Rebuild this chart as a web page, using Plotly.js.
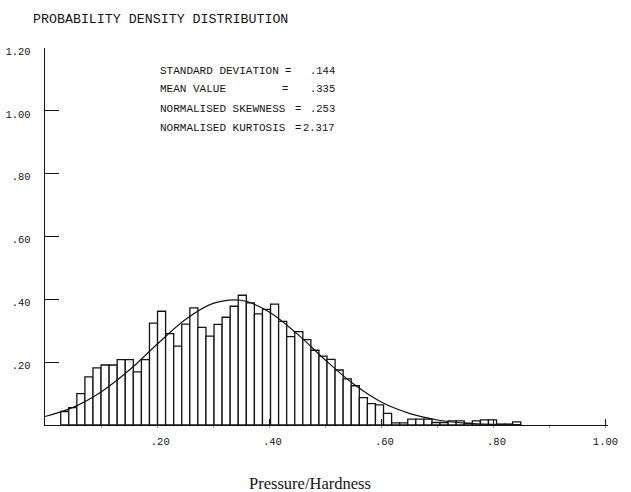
<!DOCTYPE html>
<html>
<head>
<meta charset="utf-8">
<script src="https://cdn.plot.ly/plotly-3.0.1.min.js"></script>
<style>
  html, body { margin: 0; padding: 0; background: #fff; }
  #chart { width: 631px; height: 492px; }
</style>
</head>
<body>
<div id="chart"></div>
<script>
// Histogram of pressure/hardness: bin layout and relative frequencies
const binStart = 0.028;
const binWidth = 0.0144;
const binHeights = [
  0.043, 0.055, 0.100, 0.153, 0.182, 0.191, 0.191, 0.208, 0.208, 0.169,
  0.208, 0.324, 0.362, 0.291, 0.251, 0.321, 0.373, 0.311, 0.283, 0.320,
  0.343, 0.378, 0.413, 0.389, 0.354, 0.368, 0.385, 0.330, 0.281, 0.297,
  0.272, 0.238, 0.219, 0.209, 0.175, 0.147, 0.125, 0.087, 0.068, 0.064,
  0.037, 0.007, 0.007, 0.019, 0.019, 0.019, 0.008, 0.008, 0.013, 0.013,
  0.005, 0.013, 0.016, 0.016, 0.003, 0.003, 0.010
];

// Fitted normal curve, sampled along the x axis
const curveX = [0, 0.05, 0.10, 0.15, 0.20, 0.25, 0.30, 0.35, 0.40, 0.45,
                0.50, 0.55, 0.60, 0.65, 0.70, 0.75, 0.80, 0.85];
const curveY = [0.027, 0.056, 0.105, 0.174, 0.257, 0.335, 0.387, 0.397, 0.360, 0.290,
                0.207, 0.131, 0.073, 0.037, 0.016, 0.006, 0.002, 0.001];

// Summary statistics
const statLabels = ['STANDARD DEVIATION', 'MEAN VALUE', 'NORMALISED SKEWNESS', 'NORMALISED KURTOSIS'];
const statValues = ['.144', '.335', '.253', '2.317'];

// Axis ticks
const xTickVals = [0.2, 0.4, 0.6, 0.8, 1.0];
const xTickText = ['\u00a0.20', '\u00a0.40', '\u00a0.60', '\u00a0.80', '1.00'];
const yTickVals = [0.2, 0.4, 0.6, 0.8, 1.0, 1.2];
const yTickText = ['.20', '.40', '.60', '.80', '1.00', '1.20'];

const ink = '#141414';
const mono = 'Liberation Mono, DejaVu Sans Mono, monospace';

const binCenters = binHeights.map((_, i) => binStart + binWidth * (i + 0.5));

const bars = {
  type: 'bar',
  x: binCenters,
  y: binHeights,
  width: binWidth,
  marker: { color: '#ffffff', line: { color: ink, width: 1.3 } },
  hoverinfo: 'skip'
};

const curve = {
  type: 'scatter',
  mode: 'lines',
  x: curveX,
  y: curveY,
  line: { color: ink, width: 1.2, shape: 'spline', smoothing: 1 },
  hoverinfo: 'skip'
};

// Statistic rows: label, equals sign, right-aligned value
const rowY = [1.128, 1.068, 1.005, 0.945];
const eqX = [0.434, 0.428, 0.452, 0.452];
const annotations = [];
statLabels.forEach((lab, i) => {
  annotations.push({ x: 0.202, y: rowY[i], xref: 'x', yref: 'y', text: lab,
    showarrow: false, xanchor: 'left', yanchor: 'middle',
    font: { family: mono, size: 11, color: ink } });
  annotations.push({ x: eqX[i], y: rowY[i], xref: 'x', yref: 'y', text: '=',
    showarrow: false, xanchor: 'center', yanchor: 'middle',
    font: { family: mono, size: 10.5, color: ink } });
  annotations.push({ x: 0.521, y: rowY[i], xref: 'x', yref: 'y', text: statValues[i],
    showarrow: false, xanchor: 'right', yanchor: 'middle',
    font: { family: mono, size: 10.5, color: ink } });
});
annotations.push({
  x: 0.4707, y: -0.154, xref: 'paper', yref: 'paper', text: 'Pressure/Hardness',
  showarrow: false, xanchor: 'center', yanchor: 'middle',
  font: { family: 'Liberation Serif, DejaVu Serif, serif', size: 16.5, color: ink }
});

const layout = {
  width: 631,
  height: 492,
  margin: { l: 45, r: 23, t: 48, b: 67 },
  paper_bgcolor: '#ffffff',
  plot_bgcolor: '#ffffff',
  showlegend: false,
  title: {
    text: 'PROBABILITY DENSITY DISTRIBUTION',
    x: 33 / 631, xref: 'container', xanchor: 'left',
    y: 1 - 18 / 492, yref: 'container', yanchor: 'middle',
    font: { family: mono, size: 13.3, color: ink }
  },
  xaxis: {
    range: [0, 1.0045],
    showgrid: false, zeroline: false,
    showline: true, linecolor: ink, linewidth: 1.3,
    tickmode: 'array', tickvals: xTickVals, ticktext: xTickText,
    ticks: 'inside', ticklen: 6, tickwidth: 1.2, tickcolor: ink,
    ticklabelstandoff: 6,
    minor: { dtick: 0.1, ticks: 'outside', ticklen: 2, tickwidth: 1, tickcolor: '#999' },
    tickfont: { family: mono, size: 10.5, color: ink }
  },
  yaxis: {
    range: [0, 1.2],
    showgrid: false, zeroline: false,
    showline: true, linecolor: ink, linewidth: 1.3,
    tickmode: 'array', tickvals: yTickVals, ticktext: yTickText,
    ticks: 'inside', ticklen: 14, tickwidth: 1.2, tickcolor: ink,
    ticklabelstandoff: 11, ticklabelshift: 3,
    tickfont: { family: mono, size: 10.5, color: ink }
  },
  annotations: annotations
};

Plotly.newPlot('chart', [bars, curve], layout, { staticPlot: true, displayModeBar: false });
</script>
</body>
</html>
